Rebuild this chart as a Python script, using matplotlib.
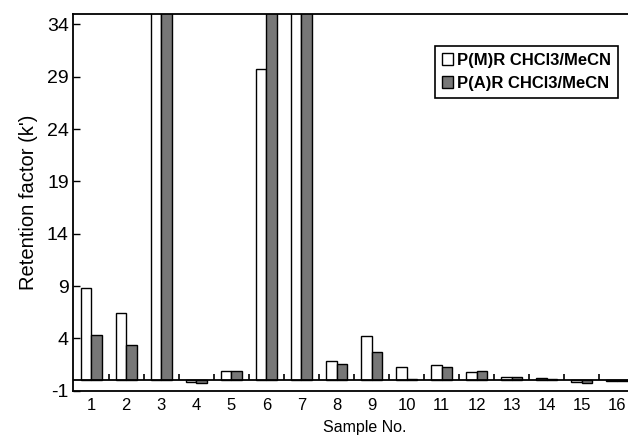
import numpy as np
import matplotlib.pyplot as plt

plt.rcParams['font.family'] = ['Liberation Sans', 'DejaVu Sans']
plt.rcParams['axes.unicode_minus'] = False

# sample numbers and retention factors (bars 3, 6, 7 run off the top)
samples = np.arange(1, 17)
pmr = [8.8, 6.4, 40, -0.2, 0.9, 29.7, 40, 1.8, 4.25, 1.3, 1.45, 0.78, 0.3, 0.2, -0.2, -0.1]
par = [4.3, 3.4, 40, -0.25, 0.85, 40, 40, 1.55, 2.65, 0.15, 1.28, 0.86, 0.26, 0.16, -0.3, -0.1]
yticks = np.arange(-1, 35, 5)

fig = plt.figure(figsize=(6.28, 4.36), dpi=100)
ax = fig.add_axes([0.116, 0.104, 0.886, 0.864])

w = 0.3
ax.bar(samples - w / 2, pmr, w, color='white', edgecolor='black', linewidth=1,
       label='P(M)R CHCl3/MeCN')
ax.bar(samples + w / 2, par, w, color='#777777', edgecolor='black', linewidth=1,
       label='P(A)R CHCl3/MeCN')

# baseline at zero with small separators between groups
ax.axhline(0, color='black', lw=1.3, zorder=3)
ax.vlines(samples[:-1] + 0.5, 0, 0.55, color='black', lw=1.2, zorder=3)

ax.set_xlim(0.48, 16.35)
ax.set_ylim(-1, 35)
ax.set_yticks(yticks)
ax.set_xticks(samples)
ax.tick_params(axis='y', direction='in', length=5, width=1, labelsize=14, pad=3)
ax.tick_params(axis='x', length=0, labelsize=12, pad=5)

for s in ax.spines.values():
    s.set_linewidth(1.3)

ax.set_xlabel('Sample No.', fontsize=11.5, va='center')
ax.xaxis.set_label_coords(0.525, -0.097)
ax.set_ylabel("Retention factor (k')", fontsize=14.5, labelpad=6)

leg = ax.legend(loc='upper right', bbox_to_anchor=(0.98, 0.915), borderaxespad=0,
                fancybox=False, edgecolor='black', framealpha=1,
                prop={'weight': 'bold', 'size': 12},
                handlelength=0.7, handleheight=0.7, handletextpad=0.25,
                labelspacing=0.5, borderpad=0.4)
leg.get_frame().set_linewidth(1.2)

fig.savefig('out.png', dpi=100)
